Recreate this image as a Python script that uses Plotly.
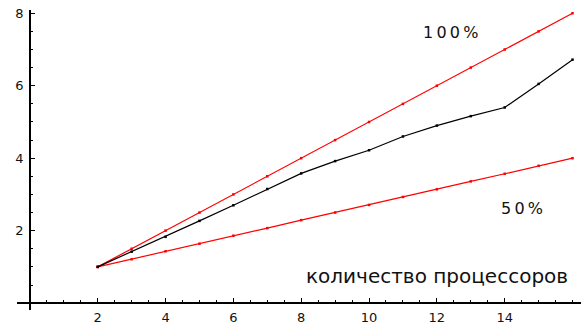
import plotly.graph_objects as go

# Processor counts and speedup values
processors = [2, 3, 4, 5, 6, 7, 8, 9, 10, 11, 12, 13, 14, 15, 16]
ideal_100 = [1.0, 1.5, 2.0, 2.5, 3.0, 3.5, 4.0, 4.5, 5.0, 5.5, 6.0, 6.5, 7.0, 7.5, 8.0]
ideal_50 = [1.0, 1.21, 1.43, 1.64, 1.86, 2.07, 2.29, 2.5, 2.71, 2.93, 3.14, 3.36, 3.57, 3.79, 4.0]
measured = [1.0, 1.42, 1.83, 2.27, 2.7, 3.15, 3.58, 3.92, 4.22, 4.6, 4.9, 5.16, 5.4, 6.05, 6.72]

x_ticks = [2, 4, 6, 8, 10, 12, 14]
y_ticks = [2, 4, 6, 8]

RED = "#ff0000"
BLACK = "#000000"
FONT = "DejaVu Sans"

fig = go.Figure()
fig.add_trace(go.Scatter(x=processors, y=ideal_50, mode="lines+markers",
                         line=dict(color=RED, width=1.2),
                         marker=dict(color=RED, size=2.5, symbol="square")))
fig.add_trace(go.Scatter(x=processors, y=ideal_100, mode="lines+markers",
                         line=dict(color=RED, width=1.2),
                         marker=dict(color=RED, size=2.5, symbol="square")))
fig.add_trace(go.Scatter(x=processors, y=measured, mode="lines+markers",
                         line=dict(color=BLACK, width=1.2),
                         marker=dict(color=BLACK, size=2.5, symbol="square")))

x_range = [-0.38, 16.25]
y_range = [-0.19, 8.09]

tick_font = dict(family=FONT, size=13, color="#111")

fig.update_xaxes(range=x_range, anchor="free", automargin=False,
                 position=(0 - y_range[0]) / (y_range[1] - y_range[0]),
                 showgrid=False, zeroline=False, showline=True,
                 linecolor=BLACK, linewidth=1.5,
                 tickvals=x_ticks, ticks="inside", ticklen=4, tickwidth=1.3,
                 tickcolor=BLACK, ticklabelstandoff=3,
                 minor=dict(dtick=0.5, tick0=0, ticks="inside", ticklen=2.5,
                            tickwidth=1.2, tickcolor=BLACK, showgrid=False),
                 tickfont=tick_font)
fig.update_yaxes(range=y_range, anchor="free", automargin=False,
                 position=(0 - x_range[0]) / (x_range[1] - x_range[0]),
                 showgrid=False, zeroline=False, showline=True,
                 linecolor=BLACK, linewidth=1.5,
                 tickvals=y_ticks, ticks="inside", ticklen=4, tickwidth=1.3,
                 tickcolor=BLACK, ticklabelstandoff=3,
                 minor=dict(dtick=0.5, tick0=0, ticks="inside", ticklen=2.5,
                            tickwidth=1.2, tickcolor=BLACK, showgrid=False),
                 tickfont=tick_font)

label_font = dict(family=FONT, size=16, color="#111")
fig.add_annotation(x=12.39, y=7.46, text="1\u20090\u20090\u2009%", showarrow=False,
                   font=label_font)
fig.add_annotation(x=14.51, y=2.62, text="5\u20090\u2009%", showarrow=False,
                   font=label_font)
fig.add_annotation(x=12.0, y=0.74, text="количество процессоров", showarrow=False,
                   font=dict(family=FONT, size=20, color="#111"))

fig.update_layout(width=581, height=325, showlegend=False,
                  margin=dict(l=17, r=0, t=10, b=15),
                  paper_bgcolor="white", plot_bgcolor="white")

fig.write_html("out.html")
